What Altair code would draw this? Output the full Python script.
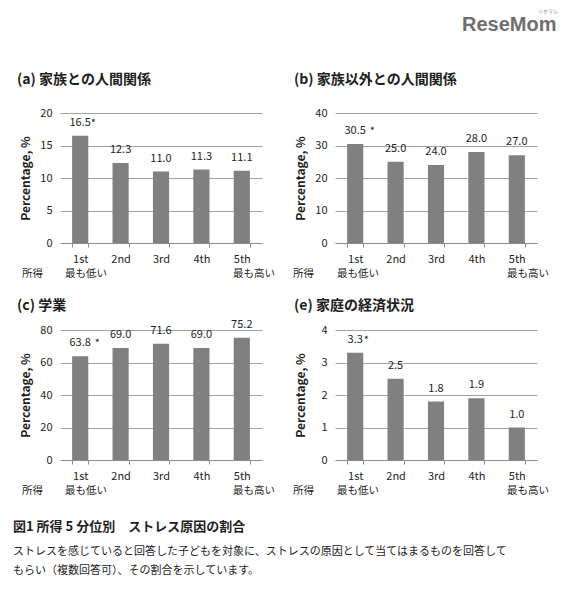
import altair as alt
import pandas as pd

FONT = "Noto Sans CJK JP"

QUINTILES = ["1st", "2nd", "3rd", "4th", "5th"]
FAMILY = [16.5, 12.3, 11.0, 11.3, 11.1]
NON_FAMILY = [30.5, 25.0, 24.0, 28.0, 27.0]
SCHOOL = [63.8, 69.0, 71.6, 69.0, 75.2]
ECONOMY = [3.3, 2.5, 1.8, 1.9, 1.0]
STARS = ["*", "", "", "", ""]

TICKS_A = [0, 5, 10, 15, 20]
TICKS_B = [0, 10, 20, 30, 40]
TICKS_C = [0, 20, 40, 60, 80]
TICKS_E = [0, 1, 2, 3, 4]

TITLES = ["(a)  家族との人間関係", "(b)  家族以外との人間関係", "(c)  学業", "(e)  家庭の経済状況"]
INCOME_LABELS = ["所得", "最も低い", "最も高い"]
Y_TITLE = "Percentage, %"

CAPTION_TITLE = ["図1 所得 5 分位別　ストレス原因の割合"]
CAPTION_LINES = [
    "ストレスを感じていると回答した子どもを対象に、ストレスの原因として当てはまるものを回答して",
    "もらい（複数回答可）、その割合を示しています。",
]
LOGO = ["ReseMom", "リセマム"]

W, H = 202, 130
TXT = "#1e1e1e"
GRID = "#a3a3a3"


def text_layer(s, x, y, size, weight="normal", align="left", color=TXT, font=FONT):
    return alt.Chart(pd.DataFrame({"t": [s]})).mark_text(
        align=align, baseline="middle", fontSize=size, fontWeight=weight,
        font=font, color=color
    ).encode(x=alt.value(x), y=alt.value(y), text="t:N")


def panel(values, ticks, title, title_y, star_dx, offs):
    df = pd.DataFrame({"q": QUINTILES, "v": values, "star": STARS})
    base = alt.Chart(df)
    x = alt.X("q:N", sort=QUINTILES,
              scale=alt.Scale(paddingInner=0.6, paddingOuter=0.3),
              axis=alt.Axis(title=None, labelAngle=0, labelFontSize=11, labelColor=TXT,
                            labelFont=FONT, labelPadding=6, tickBand="extent", tickSize=4,
                            tickColor="#8c8c8c", domainColor="#8c8c8c"))
    y = alt.Y("v:Q", scale=alt.Scale(domain=[ticks[0], ticks[-1]], nice=False),
              axis=alt.Axis(values=ticks, title=Y_TITLE, titleFontSize=12, titleFontWeight="bold",
                            titleColor=TXT, titleFont=FONT, titleX=-35, titleY=H / 2, titleAngle=270,
                            titleAlign="center", titleBaseline="middle",
                            labelFontSize=11, labelColor=TXT, labelFont=FONT, labelPadding=8,
                            ticks=False, domain=False, grid=True, gridColor=GRID))
    bars = base.mark_bar(color="#808080").encode(x=x, y=y)
    labels = base.mark_text(dy=-13, baseline="middle", fontSize=11, font=FONT, color=TXT).encode(
        x=x, y=y, text=alt.Text("v:Q", format=".1f"))
    star = base.transform_filter("datum.star != ''").mark_text(
        dx=star_dx, dy=-12, baseline="middle", fontSize=11, font=FONT, color=TXT).encode(
        x=x, y=y, text="star:N")
    layers = [bars, labels, star,
              text_layer(title, offs[0], title_y, 14, "bold"),
              text_layer(INCOME_LABELS[0], offs[1], H + 31, 10.5),
              text_layer(INCOME_LABELS[1], offs[2], H + 31, 10.5),
              text_layer(INCOME_LABELS[2], offs[3], H + 31, 10.5)]
    return alt.layer(*layers).properties(width=W, height=H)


LEFT = (-43, -38, 5, 173)
RIGHT = (-41, -42, 2, 172)

pa = panel(FAMILY, TICKS_A, TITLES[0], -33, 13, LEFT)
pb = panel(NON_FAMILY, TICKS_B, TITLES[1], -33, 17, RIGHT)
pc = panel(SCHOOL, TICKS_C, TITLES[2], -24.5, 17, LEFT)
pe = panel(ECONOMY, TICKS_E, TITLES[3], -24.5, 11, RIGHT)

row1 = alt.hconcat(pa, pb, spacing=18)
row2 = alt.hconcat(pc, pe, spacing=18)

logo = alt.layer(
    text_layer(LOGO[0], 402, 17, 20, "bold", color="#6e6e6e", font="Liberation Sans"),
    text_layer(LOGO[1], 478, 3, 5, color="#909090"),
).properties(width=490, height=47)

caption = alt.layer(
    text_layer(CAPTION_TITLE[0], -47, 12, 13, "bold"),
    text_layer(CAPTION_LINES[0], -47, 37, 11),
    text_layer(CAPTION_LINES[1], -47, 56, 11),
).properties(width=490, height=68)

chart = alt.vconcat(logo, row1, row2, caption, spacing=18).properties(
    padding={"left": 5, "top": 0, "right": 0, "bottom": 0}
).configure(font=FONT, view=alt.ViewConfig(stroke=None))

chart.save("out.html", embed_options={"renderer": "svg", "actions": False})
